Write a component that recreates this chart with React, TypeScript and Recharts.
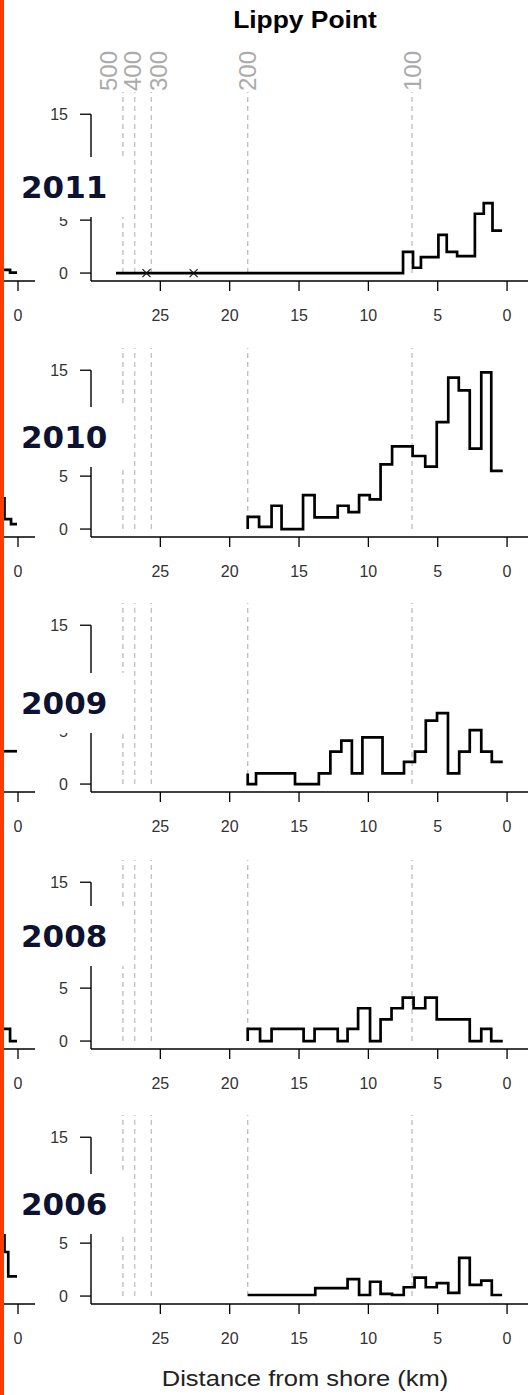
import React from 'react';
import { ComposedChart, Line, XAxis, YAxis, ReferenceLine, Scatter } from 'recharts';

// ---------- data ----------
const years = ['2011', '2010', '2009', '2008', '2006'];

// distance from shore (km) of each station, and value per station (step "s" style)
const dist2011 = [0.36, 1.05, 1.68, 2.32, 3.6, 4.35, 4.95, 6.21, 6.78, 7.5, 22.6, 26.0, 28.2];
const val2011 = [4.0, 6.6, 5.6, 1.6, 2.0, 3.6, 1.5, 0.5, 2.0, 0, 0, 0, 0];

const dist2010 = [0.31, 1.14, 1.86, 2.69, 3.48, 4.24, 5.07, 5.9, 6.81, 8.29, 9.12, 9.9, 10.67, 11.43, 12.21, 13.88, 14.71, 16.26, 16.98, 17.88, 18.7];
const val2010 = [5.5, 14.8, 7.6, 13.1, 14.3, 10.1, 5.9, 6.9, 7.8, 6.1, 2.8, 3.2, 1.6, 2.2, 1.1, 3.2, 0, 2.2, 0.2, 1.16, 0];

const dist2009 = [0.31, 1.1, 1.86, 2.69, 3.45, 4.26, 5.05, 5.86, 6.64, 7.43, 8.98, 10.43, 11.19, 11.95, 12.74, 13.57, 15.29, 18.1, 18.7];
const val2009 = [2.1, 3.06, 5.1, 3.06, 1.0, 6.7, 6.0, 3.06, 2.1, 1.0, 4.4, 1.0, 4.1, 3.06, 1.0, 0, 1.0, 0, 1.0];

const dist2008 = [0.31, 1.14, 1.86, 2.69, 5.07, 5.9, 6.74, 7.52, 8.33, 9.12, 9.88, 10.74, 11.5, 12.21, 13.88, 14.67, 16.98, 17.81, 18.7];
const val2008 = [0, 1.15, 0, 2.05, 4.1, 3.1, 4.1, 3.1, 2.05, 0, 3.1, 1.15, 0, 1.15, 0, 1.15, 0, 1.15, 0];

const dist2006 = [0.36, 1.1, 1.86, 2.69, 3.45, 4.24, 5.07, 5.86, 6.67, 7.45, 8.29, 9.12, 9.88, 10.67, 11.5, 13.83, 18.7];
const val2006 = [0.1, 1.45, 1.05, 3.6, 0.3, 1.23, 0.83, 1.75, 0.83, 0.1, 0.2, 1.35, 0.1, 1.6, 0.74, 0.1, 0.1];

// neighbouring panel (cut off at left edge)
const nDist2011 = [0.07, 0.57, 1.3];
const nVal2011 = [0.05, 0.3, 0.3];
const nDist2010 = [0.07, 0.5, 0.97, 1.3];
const nVal2010 = [0.47, 0.94, 2.9, 2.9];
const nDist2009 = [0.07, 1.3];
const nVal2009 = [3.1, 3.1];
const nDist2008 = [0.07, 0.57, 1.3];
const nVal2008 = [0, 1.16, 1.16];
const nDist2006 = [0.07, 0.7, 0.97, 1.3];
const nVal2006 = [1.85, 4.16, 8, 8];

// 'x' markers on 2011 zero line
const markerDist2011 = [26.0, 22.6];
const markerVal2011 = [0, 0];

// depth contours (m) and their distance (km)
const contourNames = ['500', '400', '300', '200', '100'];
const contourKm = [27.7, 26.85, 25.65, 18.7, 6.85];
const contourLabelKm = [28.75, 27.0, 25.1, 18.75, 6.85];

const xTicks = [0, 5, 10, 15, 20, 25];
const yTicks = [0, 5, 15]; // the 10 tick is hidden behind the year label

const allDist = [dist2011, dist2010, dist2009, dist2008, dist2006];
const allVal = [val2011, val2010, val2009, val2008, val2006];
const allNDist = [nDist2011, nDist2010, nDist2009, nDist2008, nDist2006];
const allNVal = [nVal2011, nVal2010, nVal2009, nVal2008, nVal2006];

// ---------- layout ----------
const AXIS_Y = [281, 537, 792, 1049, 1304];
const BOX_TOP = [157, 407, 673, 906, 1174];
const PLOT_H = 189;
const XAXIS_H = 50;
const X_DOMAIN: [number, number] = [-1.51, 30];
const Y_DOMAIN: [number, number] = [-0.75, 17.1];
const N_DOMAIN: [number, number] = [-1.221, 1.293];

const tickFont = { fontSize: 16, fill: '#333', fontFamily: 'Liberation Sans, Arial, sans-serif' };

const XMark = (props: any) => {
  const { cx, cy } = props;
  if (cx == null || cy == null) return null;
  const s = 4;
  return (
    <path
      d={`M${cx - s},${cy - s}L${cx + s},${cy + s}M${cx - s},${cy + s}L${cx + s},${cy - s}`}
      stroke="#111"
      strokeWidth={1.1}
      fill="none"
    />
  );
};

const rotLabel = (text: string) => (props: any) => {
  const vb = props.viewBox || {};
  const x = vb.x ?? 0;
  const y = (vb.y ?? 92) - 1;
  return (
    <text
      transform={`translate(${x + 8.5}, ${y}) rotate(-90)`}
      fontSize={24}
      fill="#ababab"
      fontFamily="Liberation Sans, Arial, sans-serif"
      textAnchor="start"
    >
      {text}
    </text>
  );
};

function Panel({ idx }: { idx: number }) {
  const first = idx === 0;
  const extraTop = first ? 92 : 0;
  const top = AXIS_Y[idx] - PLOT_H - extraTop;
  const rows = allDist[idx].map((d, i) => ({ d, v: allVal[idx][i] }));
  const nRows = allNDist[idx].map((d, i) => ({ d, v: allNVal[idx][i] }));
  const markers = markerDist2011.map((d, i) => ({ d, v: markerVal2011[i] }));

  return (
    <>
      <div style={{ position: 'absolute', left: 0, top }}>
        <ComposedChart
          width={528}
          height={extraTop + PLOT_H + XAXIS_H}
          margin={{ top: extraTop, right: 0, bottom: 0, left: 0 }}
          data={rows}
        >
          <XAxis
            type="number"
            dataKey="d"
            domain={X_DOMAIN}
            reversed
            allowDataOverflow
            ticks={xTicks}
            interval={0}
            tickSize={10}
            tickMargin={19}
            height={XAXIS_H}
            axisLine={{ stroke: '#000', strokeWidth: 1.3 }}
            tickLine={{ stroke: '#000', strokeWidth: 1.3 }}
            tick={tickFont}
          />
          <YAxis
            type="number"
            dataKey="v"
            domain={Y_DOMAIN}
            allowDataOverflow
            ticks={yTicks}
            interval={0}
            width={91}
            axisLine={false}
            tickSize={11}
            tickMargin={12}
            tickLine={{ stroke: '#000', strokeWidth: 1.3 }}
            tick={tickFont}
          />
          {contourKm.map((k, i) => (
            <ReferenceLine
              key={'c' + i}
              segment={[{ x: k, y: 0 }, { x: k, y: Y_DOMAIN[1] }]}
              stroke="#c2c2c2"
              strokeWidth={1.4}
              strokeDasharray="5 4"
            />
          ))}
          {first &&
            contourLabelKm.map((k, i) => (
              <ReferenceLine
                key={'l' + i}
                x={k}
                stroke="none"
                strokeOpacity={0}
                label={rotLabel(contourNames[i])}
              />
            ))}
          <ReferenceLine
            segment={[{ x: X_DOMAIN[1], y: Y_DOMAIN[0] }, { x: X_DOMAIN[1], y: 15 }]}
            stroke="#000"
            strokeWidth={1.4}
          />
          <Line
            type="stepAfter"
            dataKey="v"
            stroke="#000"
            strokeWidth={2.7}
            dot={false}
            isAnimationActive={false}
          />
          {first && (
            <Scatter data={markers} dataKey="v" shape={XMark} isAnimationActive={false} />
          )}
        </ComposedChart>
      </div>
      <div style={{ position: 'absolute', left: 0, top: AXIS_Y[idx] - PLOT_H }}>
        <ComposedChart
          width={35}
          height={PLOT_H + XAXIS_H}
          margin={{ top: 0, right: 0, bottom: 0, left: 0 }}
          data={nRows}
        >
          <XAxis
            type="number"
            dataKey="d"
            domain={N_DOMAIN}
            reversed
            allowDataOverflow
            ticks={[0]}
            tickSize={10}
            tickMargin={19}
            height={XAXIS_H}
            axisLine={{ stroke: '#000', strokeWidth: 1.3 }}
            tickLine={{ stroke: '#000', strokeWidth: 1.3 }}
            tick={tickFont}
          />
          <YAxis type="number" dataKey="v" hide domain={Y_DOMAIN} allowDataOverflow width={0} />
          <Line
            type="stepAfter"
            dataKey="v"
            stroke="#000"
            strokeWidth={2.7}
            dot={false}
            isAnimationActive={false}
          />
        </ComposedChart>
      </div>
      <div
        style={{
          position: 'absolute',
          left: 0,
          top: BOX_TOP[idx],
          width: 132,
          height: 60,
          background: '#fff',
          display: 'flex',
          alignItems: 'center',
        }}
      >
        <span
          style={{
            marginLeft: 21,
            fontFamily: 'DejaVu Sans, Verdana, sans-serif',
            fontWeight: 'bold',
            fontSize: 31,
            color: '#0c1230',
            lineHeight: '60px',
          }}
        >
          {years[idx]}
        </span>
      </div>
    </>
  );
}

export default function App() {
  return (
    <div
      style={{
        position: 'absolute',
        left: 0,
        top: 0,
        width: 528,
        height: 1395,
        background: '#fff',
        overflow: 'hidden',
      }}
    >
      <div
        style={{
          position: 'absolute',
          left: 155,
          top: 6,
          width: 300,
          textAlign: 'center',
          fontFamily: 'Liberation Sans, Arial, sans-serif',
          fontWeight: 'bold',
          fontSize: 24,
          lineHeight: '28px',
          color: '#000',
          transform: 'scaleX(1.1)',
        }}
      >
        Lippy Point
      </div>
      {years.map((_, i) => (
        <Panel key={i} idx={i} />
      ))}
      <div
        style={{
          position: 'absolute',
          left: 105,
          top: 1366,
          width: 400,
          textAlign: 'center',
          fontFamily: 'Liberation Sans, Arial, sans-serif',
          fontSize: 22,
          lineHeight: '26px',
          color: '#222',
          transform: 'scaleX(1.16)',
        }}
      >
        Distance from shore (km)
      </div>
      <div
        style={{
          position: 'absolute',
          left: 0,
          top: 0,
          width: 4,
          height: 1395,
          background: '#ff3c00',
        }}
      />
    </div>
  );
}
